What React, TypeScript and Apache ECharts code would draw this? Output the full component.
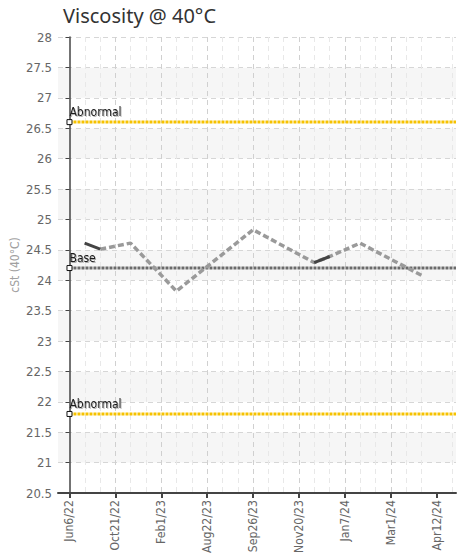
import React, { useEffect, useRef } from 'react';
import * as echarts from 'echarts';

const TITLE = 'Viscosity @ 40°C';
const Y_NAME = 'cSt (40°C)';
const DATE_LABELS = ['Jun6/22', 'Oct21/22', 'Feb1/23', 'Aug22/23', 'Sep26/23', 'Nov20/23', 'Jan7/24', 'Mar1/24', 'Apr12/24'];
const Y_MIN = 20.5;
const Y_MAX = 28;
const Y_STEP = 0.5;
const X_MIN = -0.25;
const X_MAX = 8.42;

// Result series (dashed grey), x in label-index units
const RESULT_X = [0.67, 1.33, 2.33, 4.0, 5.33, 5.67, 6.33, 7.72];
const RESULT_Y = [24.51, 24.61, 23.82, 24.83, 24.29, 24.39, 24.61, 24.06];
// Short solid dark segments
const TREND_A_X = [0.33, 0.67];
const TREND_A_Y = [24.61, 24.51];
const TREND_B_X = [5.33, 5.67];
const TREND_B_Y = [24.29, 24.39];
// Limits
const UPPER_ABNORMAL = 26.6;
const BASE = 24.2;
const LOWER_ABNORMAL = 21.8;

const COND = "'DejaVu Sans Condensed', 'Liberation Sans Narrow', sans-serif";

const pairs = (xs: number[], ys: number[]) => xs.map((x, i) => [x, ys[i]]);

function limitSeries(name: string, value: number, color: string) {
  return {
    type: 'line',
    name,
    z: 2,
    symbol: 'none',
    showSymbol: true,
    lineStyle: { color, width: 3, type: [3, 1] },
    itemStyle: { color: '#ffffff', borderColor: '#111111', borderWidth: 1 },
    label: {
      show: false,
      position: 'top',
      align: 'left',
      distance: 1,
      formatter: name,
      color: '#1a1a1a',
      fontSize: 12,
      fontFamily: COND,
      textShadowColor: 'rgba(0,0,0,0.3)',
      textShadowBlur: 1,
      textShadowOffsetX: 1,
      textShadowOffsetY: 1,
    },
    emphasis: { disabled: true },
    data: [
      { value: [0, value], symbol: 'rect', symbolSize: 5, label: { show: true } },
      { value: [X_MAX, value], symbol: 'none' },
    ],
  };
}

export default function App() {
  const ref = useRef<HTMLDivElement>(null);
  useEffect(() => {
    if (!ref.current) return;
    const chart = echarts.init(ref.current, undefined, { renderer: 'svg' });
    chart.setOption({
      animation: false,
      title: {
        text: TITLE,
        left: 58,
        top: 0,
        textStyle: { fontSize: 20, fontWeight: 'normal', color: '#333333', fontFamily: "'Noto Sans', sans-serif" },
      },
      grid: { left: 58, right: 1, top: 37, bottom: 61, containLabel: false, outerBoundsMode: 'none' },
      xAxis: {
        type: 'value',
        min: X_MIN,
        max: X_MAX,
        minInterval: 1,
        maxInterval: 1,
        splitNumber: 9,
        axisLine: { show: true, lineStyle: { color: '#444444', width: 2 } },
        axisTick: { show: true, length: 5, lineStyle: { color: '#444444', width: 2 }, customValues: DATE_LABELS.map((_, i) => i) },
        axisLabel: {
          customValues: DATE_LABELS.map((_, i) => i),
          formatter: (v: number) => (Number.isInteger(v) && DATE_LABELS[v] ? DATE_LABELS[v] : ''),
          rotate: 90,
          margin: 7,
          color: '#666666',
          fontSize: 12.2,
          fontFamily: COND,
        },
        splitLine: { show: true, showMinLine: false, showMaxLine: false, lineStyle: { color: '#d0d0d0', type: [5, 4], width: 1 } },
        minorTick: { show: false, splitNumber: 3 },
        minorSplitLine: { show: true, lineStyle: { color: '#e8e8e8', type: [5, 4], width: 1 } },
      },
      yAxis: {
        type: 'value',
        min: Y_MIN,
        max: Y_MAX,
        interval: Y_STEP,
        name: Y_NAME,
        nameLocation: 'middle',
        nameGap: 37,
        nameMoveOverlap: false,
        nameTextStyle: { color: '#a0a0a0', fontSize: 12, fontFamily: COND, verticalAlign: 'bottom' },
        axisLine: { show: true, lineStyle: { color: '#444444', width: 1.5 } },
        axisTick: { show: true, length: 4, lineStyle: { color: '#444444', width: 1 } },
        axisLabel: { margin: 6, color: '#666666', fontSize: 13, fontFamily: COND },
        splitLine: { show: true, lineStyle: { color: '#d6d6d6', type: [5, 4], width: 1 } },
        splitArea: { show: true, areaStyle: { color: ['#ffffff', '#f6f6f6'] } },
      },
      series: [
        limitSeries('Abnormal', UPPER_ABNORMAL, '#f6c200'),
        limitSeries('Base', BASE, '#6a6a6a'),
        limitSeries('Abnormal', LOWER_ABNORMAL, '#f6c200'),
        {
          type: 'line',
          name: 'Result',
          z: 3,
          symbol: 'none',
          lineStyle: { color: '#9a9a9a', width: 3.5, type: [6, 3] },
          emphasis: { disabled: true },
          data: pairs(RESULT_X, RESULT_Y),
        },
        {
          type: 'line',
          name: 'TrendA',
          z: 4,
          symbol: 'none',
          lineStyle: { color: '#444444', width: 3 },
          emphasis: { disabled: true },
          data: pairs(TREND_A_X, TREND_A_Y),
        },
        {
          type: 'line',
          name: 'TrendB',
          z: 4,
          symbol: 'none',
          lineStyle: { color: '#444444', width: 3 },
          emphasis: { disabled: true },
          data: pairs(TREND_B_X, TREND_B_Y),
        },
      ],
    });
    return () => chart.dispose();
  }, []);
  return <div ref={ref} style={{ position: 'absolute', left: 0, top: 0, width: 457, height: 554 }} />;
}
